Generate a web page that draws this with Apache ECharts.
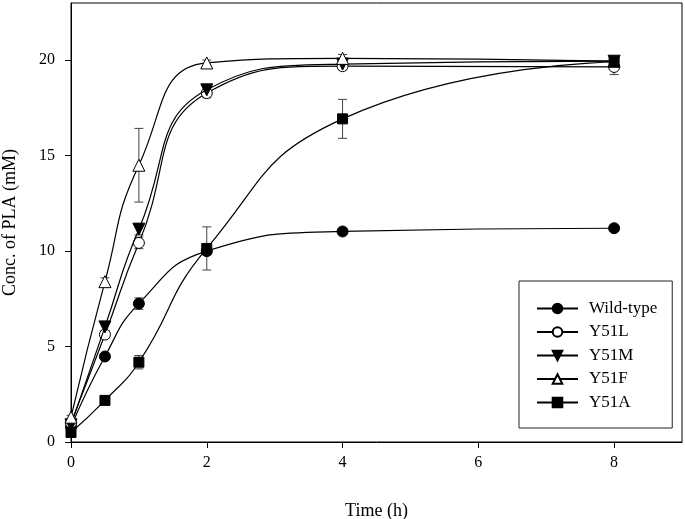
<!DOCTYPE html>
<html>
<head>
<meta charset="utf-8">
<script src="https://cdn.jsdelivr.net/npm/echarts@6/dist/echarts.min.js"></script>
<style>
html,body{margin:0;padding:0;background:#fff;}
#chart{width:685px;height:519px;}
</style>
</head>
<body>
<div id="chart"></div>
<script>
const times = [0, 0.5, 1, 2, 4, 8];
const seriesNames = ['Wild-type', 'Y51L', 'Y51M', 'Y51F', 'Y51A'];
const wildType = [0.8, 4.48, 7.25, 10.0, 11.03, 11.2];
const y51L = [1.0, 5.63, 10.43, 18.28, 19.69, 19.65];
const y51M = [0.9, 6.03, 11.15, 18.45, 19.8, 19.95];
const y51F = [1.3, 8.4, 14.5, 19.86, 20.1, 19.95];
const y51A = [0.5, 2.18, 4.18, 10.14, 16.93, 19.91];
const wildTypeErr = [0.1, 0.15, 0.3, 0.2, 0.15, 0.15];
const y51LErr = [0.1, 0.2, 0.3, 0.25, 0.2, 0.4];
const y51MErr = [0.1, 0.2, 0.3, 0.2, 0.15, 0.15];
const y51FErr = [0.1, 0.2, 1.93, 0.15, 0.2, 0.15];
const y51AErr = [0.1, 0.15, 0.35, 1.13, 1.02, 0.2];
const xTicks = [0, 2, 4, 6, 8];
const yTicks = [0, 5, 10, 15, 20];

const values = [wildType, y51L, y51M, y51F, y51A];
const errs = [wildTypeErr, y51LErr, y51MErr, y51FErr, y51AErr];
const symbols = [
  {symbol: 'circle', size: 11, fill: '#000', rot: 0},
  {symbol: 'circle', size: 11, fill: '#fff', rot: 0},
  {symbol: 'triangle', size: 12, fill: '#000', rot: 180},
  {symbol: 'triangle', size: 12, fill: '#fff', rot: 0},
  {symbol: 'rect', size: 10, fill: '#000', rot: 0}
];
const FONT = '"Liberation Serif", "Times New Roman", serif';

const series = [];
values.forEach(function (vals, i) {
  series.push({
    type: 'custom',
    name: seriesNames[i] + ' err',
    z: 1,
    silent: true,
    data: times.map(function (t, k) { return [t, vals[k] - errs[i][k], vals[k] + errs[i][k]]; }),
    renderItem: function (params, api) {
      const lo = api.coord([api.value(0), api.value(1)]);
      const hi = api.coord([api.value(0), api.value(2)]);
      const w = 4.5;
      const st = {stroke: '#444', lineWidth: 1, fill: null};
      return {
        type: 'group',
        children: [
          {type: 'line', shape: {x1: lo[0], y1: lo[1], x2: hi[0], y2: hi[1]}, style: st},
          {type: 'line', shape: {x1: lo[0] - w, y1: lo[1], x2: lo[0] + w, y2: lo[1]}, style: st},
          {type: 'line', shape: {x1: hi[0] - w, y1: hi[1], x2: hi[0] + w, y2: hi[1]}, style: st}
        ]
      };
    }
  });
});
values.forEach(function (vals, i) {
  const s = symbols[i];
  series.push({
    type: 'line',
    name: seriesNames[i],
    z: 2 + i,
    smooth: 0.5,
    data: times.map(function (t, k) { return [t, vals[k]]; }),
    symbol: s.symbol,
    symbolSize: s.size,
    symbolRotate: s.rot,
    showAllSymbol: true,
    lineStyle: {color: '#000', width: 1.2},
    itemStyle: {color: s.fill, borderColor: '#000', borderWidth: 1},
    emphasis: {disabled: true}
  });
});

const chart = echarts.init(document.getElementById('chart'), null, {renderer: 'canvas'});
chart.setOption({
  animation: false,
  backgroundColor: '#fff',
  grid: {left: 71, right: 3, top: 3, bottom: 77, show: true, borderColor: '#000', borderWidth: 1, containLabel: false, outerBoundsMode: 'none'},
  xAxis: {
    type: 'value', min: 0, max: 9, interval: 2,
    name: 'Time (h)', nameLocation: 'middle', nameGap: 60,
    nameTextStyle: {fontFamily: FONT, fontSize: 18, color: '#000'},
    axisLine: {show: true, lineStyle: {color: '#000', width: 1}},
    axisTick: {show: true, length: 6, lineStyle: {color: '#000'}, customValues: xTicks},
    axisLabel: {fontFamily: FONT, fontSize: 16, color: '#000', margin: 13, customValues: xTicks},
    splitLine: {show: false}
  },
  yAxis: {
    type: 'value', min: 0, max: 23, interval: 5,
    name: 'Conc. of PLA (mM)', nameLocation: 'middle', nameGap: 52,
    nameTextStyle: {fontFamily: FONT, fontSize: 18, color: '#000'},
    axisLine: {show: true, lineStyle: {color: '#000', width: 1}},
    axisTick: {show: true, length: 6, lineStyle: {color: '#000'}, customValues: yTicks},
    axisLabel: {fontFamily: FONT, fontSize: 16, color: '#000', margin: 16, customValues: yTicks},
    splitLine: {show: false}
  },
  legend: {
    data: seriesNames,
    orient: 'vertical',
    left: 519, top: 281,
    width: 155,
    padding: [19, 15, 17, 17],
    itemWidth: 41, itemHeight: 12, itemGap: 6.5,
    borderColor: '#222', borderWidth: 1,
    backgroundColor: '#fff',
    textStyle: {fontFamily: FONT, fontSize: 17, color: '#000', lineHeight: 17, padding: [0, 0, 0, 6]},
    selectedMode: false
  },
  series: series
});
</script>
</body>
</html>
